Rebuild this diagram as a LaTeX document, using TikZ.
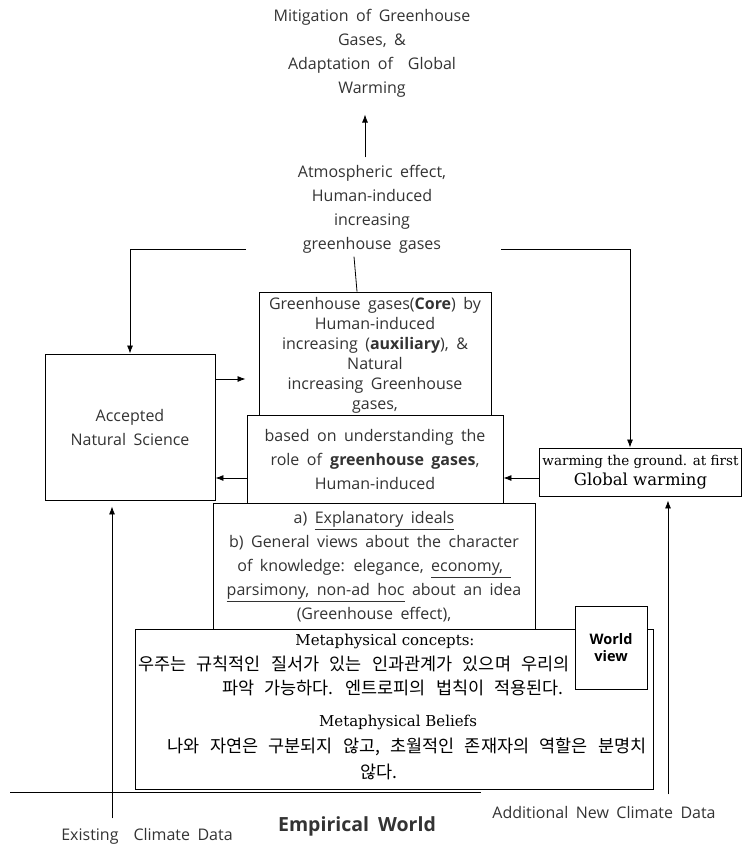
\documentclass[tikz,border=0pt]{standalone}
\usepackage{fontspec}
\setmainfont[WordSpace=1.8]{Open Sans}
\newfontfamily\krfont[WordSpace=2.6]{Noto Sans CJK KR}
\newfontfamily\serfont{DejaVu Serif}
\usepackage{tikz}
\usetikzlibrary{arrows.meta,positioning,calc}
\definecolor{txt_gray}{RGB}{51,51,51}

\begin{document}
\begin{tikzpicture}[x=1pt,y=-1pt,
    box/.style={draw, fill=white, line width=0.9pt, inner sep=0pt, align=center, text=txt_gray},
    txt/.style={align=center, text=txt_gray, font=\fontsize{16}{24}\selectfont},
    krtxt/.style={text=black, inner sep=0pt, font=\krfont\fontsize{17.5}{24}\selectfont},
    sertxt/.style={text=black, inner sep=0pt, font=\serfont\fontsize{15}{20}\selectfont},
    arr/.style={-{Latex[length=8pt,width=6pt]}, line width=0.8pt}]
        \useasboundingbox (0,0) rectangle (742,845);
        % Top texts
        \node[txt] (goal) at (372,53) {Mitigation of Greenhouse\\Gases, \&\\Adaptation of\ \ Global\\Warming};
        \node[txt] (atmos) at (372,209) {Atmospheric effect,\\Human-induced\\increasing\\greenhouse gases};
        % Boxes
        \node[box, minimum width=232, minimum height=126, font=\fontsize{16}{20}\selectfont] (core) at (375,355)
            {Greenhouse gases(\textbf{Core}) by\\Human-induced\\increasing (\textbf{auxiliary}), \&\\Natural\\increasing Greenhouse\\gases,};
        \node[box, minimum width=256, minimum height=89, font=\fontsize{16}{24}\selectfont] (basis) at (375,459.5)
            {based on understanding the\\role of \textbf{greenhouse gases},\\Human-induced};
        \node[box, minimum width=170, minimum height=146, font=\fontsize{16}{24}\selectfont] (accepted) at (130,427)
            {Accepted\\Natural Science};
        \node[box, minimum width=202, minimum height=48, text=black] (global) at (640.5,472)
            {{\serfont\fontsize{13.5}{15}\selectfont warming the ground. at first}\\[4pt]{\serfont\fontsize{16.5}{20}\selectfont Global warming}};
        \node[box, minimum width=322, minimum height=128, font=\fontsize{16}{24}\selectfont] (explan) at (374,567)
            {a)\ \underline{Explanatory ideals}\\b) General views about the character\\of knowledge: elegance, \underline{economy,\ }\\\underline{parsimony,\ non-ad hoc} about an idea\\(Greenhouse effect),};
        \node[box, minimum width=518, minimum height=160] (meta) at (394,709) {};
        % Texts in the metaphysical box
        \node[sertxt] (mconcepts) at (385,641) {Metaphysical concepts:};
        \node[krtxt, anchor=west] (kr_one) at (138,664) {우주는 규칙적인 질서가 있는 인과관계가 있으며 우리의};
        \node[krtxt] (kr_two) at (393,688) {파악 가능하다. 엔트로피의 법칙이 적용된다.};
        \node[sertxt] (mbeliefs) at (398,722) {Metaphysical Beliefs};
        \node[krtxt] (kr_three) at (407,747) {나와 자연은 구분되지 않고, 초월적인 존재자의 역할은 분명치};
        \node[krtxt] (kr_four) at (379,772) {않다.};
        \node[box, minimum width=72, minimum height=83, text=black, font=\bfseries\fontsize{14.5}{17}\selectfont] (wview) at (611,647.5)
            {World\\view};
        % Ground line and bottom labels
        \coordinate (g_left) at (10,792);
        \coordinate (g_right) at (481,792);
        \draw[line width=0.8pt] (g_left) -- (g_right);
        \node[txt] (existing) at (147,836) {Existing\ \ Climate Data};
        \node[txt, font=\bfseries\fontsize{19.5}{22}\selectfont] (empirical) at (357,826) {Empirical World};
        \node[txt] (additional) at (604,812) {Additional New Climate Data};
        % Arrows
        \coordinate (top_l) at (246,249);
        \coordinate (top_r) at (501,249);
        \draw[arr, shorten <=4pt, shorten >=14pt] ([xshift=-7pt]atmos.north) -- ([xshift=-7pt]goal.south);
        \draw[line width=0.8pt] ([xshift=-18pt]core.north) -- ([xshift=-18pt]atmos.south);
        \draw[arr] (top_l) -| (accepted.north);
        \draw[arr] (top_r) -| ([xshift=-10.5pt]global.north);
        \draw[arr, shorten >=13pt] ($(accepted.east)+(0,-48)$) -- ($(core.west)+(0,24)$);
        \draw[arr] ($(basis.west)+(0,18.5)$) -- ($(accepted.east)+(0,51)$);
        \draw[arr] ($(global.west)+(0,6)$) -- ($(basis.east)+(0,18.5)$);
        \draw[arr, shorten <=6pt, shorten >=6pt] ($(existing.north)+(-35,0)$) -- ($(accepted.south)+(-18,0)$);
        \draw[arr, shorten <=8pt, shorten >=4pt] ($(additional.north)+(64,0)$) -- ($(global.south)+(27.5,0)$);
\end{tikzpicture}
\end{document}
